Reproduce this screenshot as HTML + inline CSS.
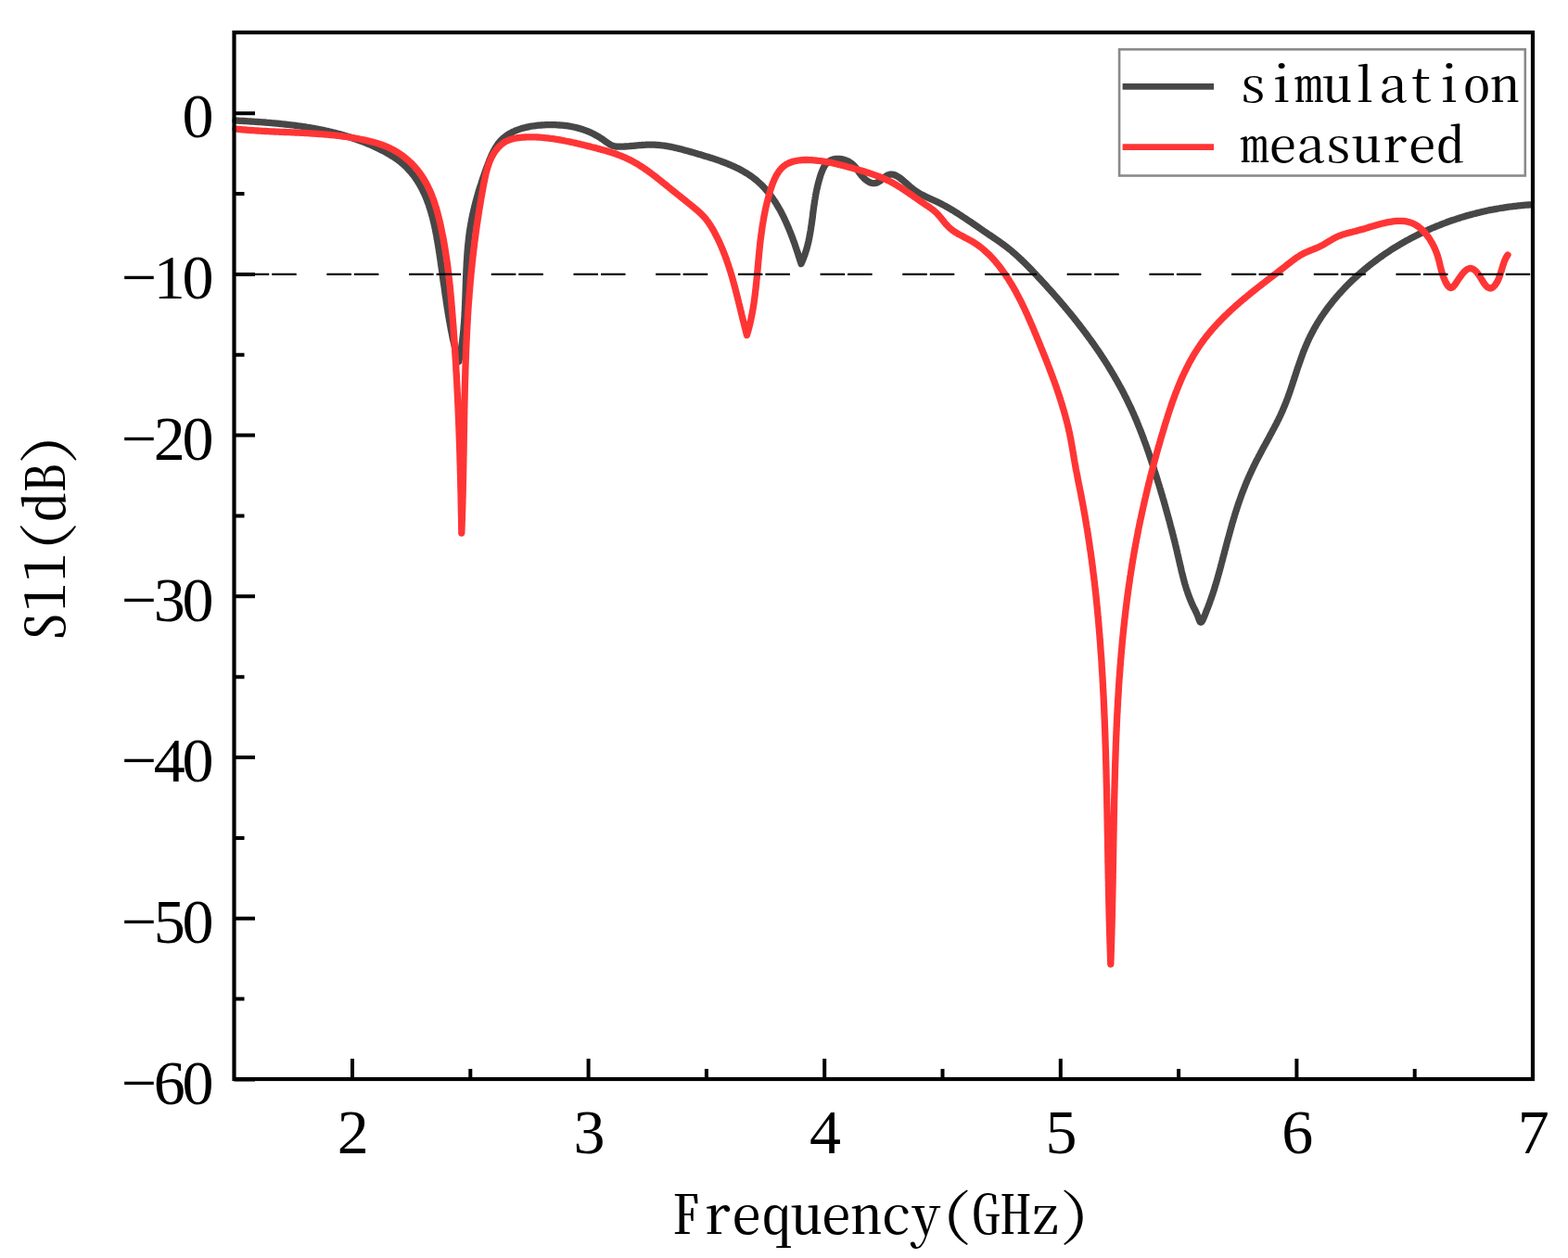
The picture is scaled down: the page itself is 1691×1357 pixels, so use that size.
<!DOCTYPE html>
<html><head><meta charset="utf-8"><style>
html,body{margin:0;padding:0;background:#fff;overflow:hidden;width:1691px;height:1357px;}
svg{display:block;}
.num{font-family:"Liberation Serif","Times New Roman",serif;font-size:68px;fill:#000;}
.mono{font-family:"Noto Serif CJK SC","Liberation Serif",serif;font-feature-settings:"hwid" 1;fill:#000;}
</style></head><body>
<svg width="1691" height="1357" viewBox="0 0 1691 1357">
<rect width="1691" height="1357" fill="#fff"/>
<g fill="none" stroke-linejoin="round" stroke-linecap="round" stroke-width="7.3">
<path d="M254.0,130.0 L255.5,130.1 257.0,130.2 258.5,130.3 260.0,130.3 261.5,130.4 263.0,130.5 264.5,130.6 266.0,130.7 267.5,130.8 269.0,130.9 270.5,131.0 272.0,131.1 273.5,131.2 275.0,131.3 276.5,131.4 278.0,131.5 279.5,131.6 281.0,131.7 282.5,131.8 284.0,131.9 285.5,132.0 287.0,132.1 288.5,132.3 290.0,132.4 291.5,132.5 293.0,132.7 294.5,132.8 296.0,132.9 297.5,133.1 299.1,133.2 300.6,133.4 302.1,133.5 303.6,133.7 305.1,133.8 306.6,134.0 308.1,134.1 309.6,134.3 311.1,134.5 312.6,134.7 314.1,134.8 315.6,135.0 317.1,135.2 318.6,135.4 320.1,135.6 321.6,135.8 323.1,136.0 324.6,136.2 326.1,136.5 327.6,136.7 329.1,136.9 330.6,137.2 332.1,137.4 333.6,137.6 335.1,137.9 336.5,138.2 338.0,138.4 339.5,138.7 341.0,139.0 342.5,139.2 344.0,139.5 345.5,139.8 346.9,140.1 348.4,140.4 349.9,140.7 351.4,141.1 352.8,141.4 354.3,141.7 355.8,142.1 357.2,142.4 358.7,142.8 360.2,143.1 361.6,143.5 363.1,143.9 364.5,144.2 366.0,144.6 367.4,145.0 368.9,145.4 370.3,145.9 371.8,146.3 373.2,146.7 374.7,147.1 376.1,147.6 377.5,148.0 379.0,148.5 380.4,149.0 381.8,149.5 383.2,150.0 384.6,150.4 386.1,151.0 387.5,151.5 388.9,152.0 390.3,152.5 391.7,153.1 393.1,153.6 394.5,154.2 395.9,154.8 397.3,155.3 398.7,155.9 400.1,156.5 401.4,157.1 402.8,157.7 404.2,158.4 405.6,159.0 406.9,159.7 408.3,160.3 409.7,161.0 411.0,161.7 412.4,162.4 413.7,163.1 415.1,163.8 416.4,164.5 417.7,165.3 419.0,166.0 420.4,166.8 421.7,167.6 422.9,168.4 424.2,169.2 425.5,170.0 426.7,170.9 428.0,171.7 429.2,172.6 430.4,173.5 431.6,174.4 432.7,175.4 433.9,176.4 435.0,177.3 436.1,178.3 437.2,179.4 438.3,180.4 439.3,181.5 440.3,182.6 441.3,183.7 442.3,184.8 443.3,185.9 444.2,187.1 445.2,188.2 446.1,189.4 447.0,190.6 447.8,191.8 448.7,193.0 449.5,194.2 450.3,195.5 451.1,196.7 451.9,198.0 452.6,199.3 453.3,200.6 454.1,201.9 454.8,203.2 455.4,204.5 456.1,205.8 456.7,207.2 457.4,208.5 458.0,209.9 458.6,211.2 459.2,212.6 459.7,214.0 460.3,215.4 460.8,216.8 461.3,218.2 461.9,219.6 462.4,221.0 462.8,222.5 463.3,223.9 463.8,225.4 464.2,226.8 464.7,228.3 465.1,229.7 465.5,231.2 465.9,232.7 466.3,234.1 466.7,235.6 467.0,237.1 467.4,238.6 467.8,240.1 468.1,241.6 468.4,243.1 468.8,244.6 469.1,246.1 469.4,247.6 469.7,249.1 470.0,250.6 470.3,252.1 470.6,253.6 470.9,255.1 471.1,256.7 471.4,258.2 471.7,259.7 471.9,261.2 472.2,262.7 472.4,264.2 472.7,265.8 472.9,267.3 473.2,268.8 473.4,270.3 473.6,271.8 473.9,273.3 474.1,274.8 474.3,276.3 474.5,277.8 474.8,279.3 475.0,280.8 475.2,282.3 475.4,283.8 475.6,285.3 475.8,286.8 476.1,288.3 476.3,289.8 476.5,291.3 476.7,292.8 476.9,294.3 477.1,295.8 477.3,297.2 477.5,298.7 477.7,300.2 477.9,301.7 478.1,303.2 478.3,304.6 478.5,306.1 478.8,307.6 479.0,309.1 479.2,310.6 479.4,312.0 479.6,313.5 479.8,315.0 480.0,316.5 480.2,317.9 480.4,319.4 480.7,320.9 480.9,322.3 481.1,323.8 481.3,325.3 481.5,326.8 481.8,328.2 482.0,329.7 482.2,331.2 482.4,332.6 482.7,334.1 482.9,335.6 483.1,337.0 483.4,338.5 483.6,340.0 483.9,341.5 484.1,342.9 484.4,344.4 484.6,345.9 484.9,347.3 485.2,348.8 485.4,350.3 485.7,351.7 486.0,353.2 486.2,354.7 486.5,356.2 486.8,357.6 487.1,359.1 487.4,360.6 487.7,362.0 488.0,363.5 488.3,365.0 488.6,366.5 489.0,367.9 489.3,369.4 489.6,370.9 490.0,372.4 490.3,373.9 490.7,375.3 491.0,376.8 491.4,378.3 491.8,379.8 492.2,381.2 492.6,382.7 493.0,384.2 493.4,385.6 493.9,387.1 494.3,388.5 494.8,390.0 495.1,388.5 495.4,387.1 495.7,385.6 496.0,384.2 496.3,382.7 496.5,381.3 496.8,379.8 497.1,378.3 497.3,376.9 497.5,375.4 497.8,373.9 498.0,372.4 498.2,371.0 498.4,369.5 498.6,368.0 498.8,366.5 498.9,365.0 499.1,363.5 499.3,362.1 499.4,360.6 499.6,359.1 499.7,357.6 499.9,356.1 500.0,354.6 500.1,353.1 500.2,351.6 500.4,350.1 500.5,348.6 500.6,347.1 500.7,345.6 500.8,344.1 500.9,342.6 501.0,341.1 501.1,339.6 501.1,338.1 501.2,336.6 501.3,335.1 501.4,333.6 501.4,332.0 501.5,330.5 501.6,329.0 501.6,327.5 501.7,326.0 501.7,324.5 501.8,323.0 501.9,321.5 501.9,320.0 502.0,318.4 502.0,316.9 502.1,315.4 502.1,313.9 502.2,312.4 502.2,310.9 502.3,309.4 502.3,307.8 502.4,306.3 502.4,304.8 502.5,303.3 502.5,301.8 502.6,300.3 502.6,298.8 502.7,297.2 502.8,295.7 502.8,294.2 502.9,292.7 502.9,291.2 503.0,289.7 503.1,288.2 503.2,286.7 503.2,285.2 503.3,283.6 503.4,282.1 503.5,280.6 503.6,279.1 503.7,277.6 503.8,276.1 503.9,274.6 504.0,273.1 504.1,271.6 504.2,270.1 504.4,268.6 504.5,267.1 504.6,265.6 504.8,264.1 504.9,262.6 505.1,261.2 505.2,259.7 505.4,258.2 505.6,256.7 505.7,255.2 505.9,253.7 506.1,252.2 506.3,250.8 506.5,249.3 506.8,247.8 507.0,246.3 507.2,244.9 507.5,243.4 507.7,241.9 508.0,240.5 508.3,239.0 508.5,237.5 508.8,236.1 509.1,234.6 509.4,233.1 509.7,231.7 510.0,230.2 510.4,228.8 510.7,227.3 511.0,225.9 511.4,224.4 511.7,223.0 512.1,221.5 512.5,220.1 512.8,218.6 513.2,217.2 513.6,215.7 514.0,214.3 514.4,212.8 514.8,211.4 515.2,209.9 515.6,208.5 516.1,207.0 516.5,205.6 516.9,204.2 517.4,202.7 517.8,201.3 518.3,199.8 518.8,198.4 519.2,196.9 519.7,195.5 520.2,194.0 520.7,192.6 521.2,191.1 521.7,189.7 522.2,188.2 522.7,186.8 523.2,185.3 523.7,183.9 524.2,182.4 524.8,180.9 525.3,179.5 525.9,178.0 526.4,176.6 527.0,175.1 527.5,173.7 528.1,172.2 528.7,170.8 529.3,169.4 529.9,168.0 530.5,166.6 531.2,165.2 531.9,163.8 532.6,162.5 533.3,161.2 534.0,159.9 534.8,158.6 535.6,157.4 536.4,156.2 537.3,155.0 538.2,153.8 539.1,152.7 540.0,151.7 541.0,150.6 542.1,149.7 543.1,148.7 544.2,147.8 545.4,146.9 546.5,146.1 547.7,145.3 548.9,144.5 550.2,143.8 551.5,143.1 552.7,142.4 554.1,141.8 555.4,141.2 556.8,140.6 558.2,140.1 559.6,139.6 561.0,139.1 562.5,138.6 563.9,138.2 565.4,137.8 566.9,137.5 568.4,137.1 569.9,136.8 571.4,136.5 572.9,136.2 574.5,136.0 576.0,135.8 577.6,135.6 579.1,135.4 580.7,135.2 582.3,135.1 583.8,135.0 585.4,134.9 586.9,134.8 588.5,134.7 590.1,134.7 591.6,134.7 593.1,134.6 594.7,134.6 596.2,134.6 597.7,134.7 599.3,134.7 600.8,134.8 602.3,134.9 603.8,135.0 605.3,135.1 606.8,135.2 608.3,135.4 609.7,135.5 611.2,135.7 612.7,135.9 614.1,136.2 615.6,136.4 617.0,136.7 618.5,137.0 619.9,137.3 621.3,137.6 622.7,138.0 624.2,138.4 625.6,138.8 627.0,139.2 628.4,139.6 629.7,140.1 631.1,140.6 632.5,141.1 633.9,141.7 635.2,142.2 636.6,142.8 637.9,143.4 639.2,144.1 640.6,144.8 641.9,145.5 643.2,146.2 644.5,146.9 645.8,147.7 647.1,148.5 648.4,149.4 649.7,150.2 651.0,151.1 652.2,152.0 653.5,152.9 654.8,153.8 656.0,154.7 657.3,155.5 658.6,156.2 659.9,156.8 661.2,157.3 662.6,157.7 663.9,158.0 665.3,158.1 666.7,158.2 668.2,158.2 669.6,158.2 671.1,158.1 672.5,158.1 674.0,158.0 675.5,157.9 677.0,157.8 678.5,157.7 680.1,157.5 681.6,157.4 683.1,157.3 684.7,157.1 686.2,157.0 687.8,156.8 689.3,156.7 690.9,156.6 692.4,156.5 694.0,156.4 695.5,156.3 697.1,156.2 698.6,156.1 700.1,156.1 701.6,156.1 703.1,156.1 704.7,156.2 706.1,156.2 707.6,156.3 709.1,156.4 710.6,156.5 712.1,156.7 713.5,156.8 715.0,157.0 716.5,157.2 717.9,157.4 719.4,157.7 720.8,157.9 722.2,158.2 723.7,158.4 725.1,158.7 726.6,159.0 728.0,159.4 729.4,159.7 730.8,160.0 732.3,160.4 733.7,160.7 735.1,161.1 736.6,161.5 738.0,161.9 739.4,162.3 740.9,162.7 742.3,163.1 743.7,163.5 745.2,163.9 746.6,164.3 748.1,164.7 749.5,165.1 751.0,165.6 752.5,166.0 753.9,166.4 755.4,166.8 756.9,167.3 758.3,167.7 759.8,168.2 761.3,168.6 762.8,169.1 764.2,169.5 765.7,170.0 767.2,170.4 768.6,170.9 770.1,171.4 771.6,171.9 773.0,172.4 774.5,172.9 776.0,173.4 777.4,173.9 778.9,174.5 780.3,175.0 781.7,175.5 783.2,176.1 784.6,176.7 786.0,177.3 787.4,177.8 788.8,178.4 790.2,179.1 791.6,179.7 793.0,180.3 794.4,181.0 795.7,181.6 797.1,182.3 798.4,183.0 799.7,183.7 801.0,184.5 802.4,185.2 803.6,186.0 804.9,186.7 806.2,187.5 807.4,188.3 808.7,189.1 809.9,190.0 811.1,190.8 812.3,191.7 813.4,192.6 814.6,193.5 815.7,194.4 816.8,195.4 817.9,196.4 819.0,197.4 820.1,198.4 821.2,199.4 822.2,200.4 823.2,201.5 824.2,202.6 825.2,203.6 826.2,204.8 827.1,205.9 828.1,207.0 829.0,208.2 829.9,209.3 830.8,210.5 831.7,211.7 832.6,212.9 833.5,214.1 834.3,215.4 835.1,216.6 836.0,217.9 836.8,219.1 837.6,220.4 838.3,221.7 839.1,223.0 839.9,224.3 840.6,225.6 841.4,226.9 842.1,228.3 842.8,229.6 843.5,231.0 844.2,232.3 844.9,233.7 845.5,235.1 846.2,236.4 846.8,237.8 847.5,239.2 848.1,240.6 848.7,242.0 849.3,243.4 849.9,244.8 850.5,246.2 851.1,247.7 851.7,249.1 852.3,250.5 852.8,251.9 853.4,253.3 853.9,254.8 854.5,256.2 855.0,257.6 855.5,259.1 856.0,260.5 856.6,261.9 857.1,263.4 857.6,264.8 858.0,266.2 858.5,267.6 859.0,269.1 859.5,270.5 860.0,271.9 860.4,273.3 860.9,274.7 861.3,276.2 861.8,277.6 862.2,279.0 862.7,280.4 863.1,281.7 863.6,283.1 864.0,284.5 864.6,283.1 865.2,281.7 865.8,280.3 866.4,278.9 866.9,277.5 867.5,276.0 868.0,274.6 868.4,273.2 868.9,271.8 869.3,270.4 869.8,268.9 870.2,267.5 870.6,266.1 870.9,264.6 871.3,263.2 871.6,261.7 872.0,260.3 872.3,258.8 872.6,257.4 872.9,255.9 873.1,254.5 873.4,253.0 873.7,251.6 873.9,250.1 874.2,248.6 874.4,247.2 874.6,245.7 874.8,244.2 875.1,242.8 875.3,241.3 875.5,239.8 875.7,238.3 875.9,236.9 876.1,235.4 876.3,233.9 876.5,232.4 876.6,231.0 876.8,229.5 877.0,228.0 877.2,226.5 877.4,225.0 877.6,223.5 877.8,222.0 878.1,220.6 878.3,219.1 878.5,217.6 878.7,216.1 879.0,214.6 879.2,213.1 879.5,211.6 879.7,210.1 880.0,208.6 880.3,207.1 880.6,205.6 880.9,204.1 881.3,202.7 881.6,201.2 881.9,199.7 882.3,198.2 882.7,196.7 883.1,195.2 883.5,193.7 884.0,192.2 884.4,190.7 884.9,189.2 885.4,187.7 885.9,186.3 886.5,184.8 887.1,183.4 887.7,182.0 888.4,180.6 889.1,179.3 889.9,178.1 890.7,177.0 891.7,175.9 892.6,175.0 893.7,174.1 894.9,173.4 896.1,172.8 897.4,172.2 898.8,171.9 900.2,171.6 901.7,171.4 903.1,171.3 904.7,171.4 906.2,171.5 907.7,171.7 909.2,172.0 910.7,172.5 912.2,173.0 913.7,173.6 915.1,174.2 916.4,175.0 917.7,175.8 918.9,176.8 920.1,177.8 921.1,178.8 922.1,179.9 923.1,181.1 924.0,182.3 924.9,183.5 925.7,184.8 926.6,186.0 927.5,187.3 928.5,188.5 929.4,189.7 930.5,190.9 931.6,192.1 932.7,193.2 934.0,194.2 935.3,195.2 936.7,196.0 938.1,196.7 939.5,197.2 940.9,197.6 942.3,197.7 943.7,197.6 945.1,197.2 946.5,196.7 947.8,195.9 949.1,195.1 950.3,194.1 951.6,193.1 952.8,192.1 954.1,191.1 955.3,190.2 956.5,189.4 957.7,188.8 959.0,188.3 960.2,188.1 961.5,188.1 962.8,188.2 964.0,188.5 965.3,189.0 966.6,189.5 967.9,190.3 969.2,191.1 970.5,192.0 971.8,193.0 973.1,194.0 974.4,195.1 975.7,196.3 977.0,197.4 978.4,198.6 979.7,199.8 981.0,201.0 982.4,202.1 983.7,203.2 985.0,204.2 986.4,205.2 987.7,206.1 989.1,207.0 990.4,207.9 991.7,208.7 993.1,209.4 994.4,210.1 995.8,210.8 997.1,211.5 998.4,212.2 999.8,212.8 1001.1,213.4 1002.4,214.0 1003.8,214.6 1005.1,215.2 1006.4,215.8 1007.7,216.4 1009.1,217.0 1010.4,217.6 1011.7,218.2 1013.0,218.9 1014.3,219.5 1015.6,220.2 1016.9,220.9 1018.2,221.6 1019.5,222.3 1020.8,223.0 1022.1,223.7 1023.4,224.5 1024.7,225.2 1025.9,226.0 1027.2,226.7 1028.5,227.5 1029.8,228.3 1031.0,229.1 1032.3,229.9 1033.6,230.7 1034.8,231.5 1036.1,232.3 1037.4,233.2 1038.6,234.0 1039.9,234.8 1041.1,235.7 1042.4,236.5 1043.7,237.4 1044.9,238.2 1046.2,239.1 1047.4,239.9 1048.7,240.8 1049.9,241.6 1051.2,242.5 1052.4,243.4 1053.7,244.2 1054.9,245.1 1056.2,245.9 1057.4,246.8 1058.7,247.7 1059.9,248.5 1061.2,249.4 1062.4,250.2 1063.6,251.1 1064.9,251.9 1066.1,252.8 1067.4,253.6 1068.6,254.4 1069.9,255.3 1071.1,256.1 1072.4,257.0 1073.6,257.8 1074.8,258.7 1076.1,259.5 1077.3,260.4 1078.5,261.2 1079.7,262.1 1080.9,263.0 1082.1,263.9 1083.3,264.7 1084.5,265.6 1085.7,266.5 1086.9,267.5 1088.0,268.4 1089.2,269.3 1090.4,270.3 1091.5,271.2 1092.6,272.2 1093.8,273.2 1094.9,274.1 1096.0,275.1 1097.1,276.1 1098.2,277.1 1099.3,278.2 1100.4,279.2 1101.5,280.2 1102.6,281.3 1103.6,282.3 1104.7,283.3 1105.8,284.4 1106.8,285.5 1107.9,286.5 1108.9,287.6 1110.0,288.7 1111.0,289.8 1112.1,290.8 1113.1,291.9 1114.2,293.0 1115.2,294.1 1116.2,295.2 1117.3,296.3 1118.3,297.4 1119.3,298.5 1120.3,299.6 1121.4,300.7 1122.4,301.8 1123.4,302.9 1124.4,304.0 1125.5,305.1 1126.5,306.2 1127.5,307.3 1128.5,308.4 1129.5,309.6 1130.5,310.7 1131.5,311.8 1132.5,312.9 1133.5,314.0 1134.6,315.2 1135.6,316.3 1136.5,317.4 1137.5,318.5 1138.5,319.7 1139.5,320.8 1140.5,321.9 1141.5,323.1 1142.5,324.2 1143.5,325.4 1144.4,326.5 1145.4,327.7 1146.4,328.8 1147.4,329.9 1148.3,331.1 1149.3,332.3 1150.3,333.4 1151.2,334.6 1152.2,335.7 1153.1,336.9 1154.1,338.0 1155.0,339.2 1156.0,340.4 1156.9,341.5 1157.9,342.7 1158.8,343.9 1159.8,345.1 1160.7,346.2 1161.6,347.4 1162.5,348.6 1163.5,349.8 1164.4,351.0 1165.3,352.2 1166.2,353.4 1167.1,354.5 1168.0,355.7 1168.9,356.9 1169.8,358.1 1170.7,359.3 1171.6,360.5 1172.5,361.7 1173.4,363.0 1174.3,364.2 1175.2,365.4 1176.1,366.6 1176.9,367.8 1177.8,369.0 1178.7,370.2 1179.6,371.5 1180.4,372.7 1181.3,373.9 1182.1,375.2 1183.0,376.4 1183.8,377.6 1184.7,378.9 1185.5,380.1 1186.3,381.3 1187.2,382.6 1188.0,383.8 1188.8,385.1 1189.6,386.3 1190.5,387.6 1191.3,388.8 1192.1,390.1 1192.9,391.4 1193.7,392.6 1194.5,393.9 1195.3,395.2 1196.1,396.4 1196.8,397.7 1197.6,399.0 1198.4,400.3 1199.2,401.6 1199.9,402.8 1200.7,404.1 1201.4,405.4 1202.2,406.7 1202.9,408.0 1203.7,409.3 1204.4,410.6 1205.2,411.9 1205.9,413.2 1206.6,414.5 1207.3,415.8 1208.1,417.1 1208.8,418.5 1209.5,419.8 1210.2,421.1 1210.9,422.4 1211.6,423.7 1212.3,425.1 1212.9,426.4 1213.6,427.7 1214.3,429.1 1215.0,430.4 1215.6,431.8 1216.3,433.1 1216.9,434.5 1217.6,435.8 1218.2,437.2 1218.9,438.5 1219.5,439.9 1220.1,441.2 1220.8,442.6 1221.4,444.0 1222.0,445.3 1222.6,446.7 1223.2,448.1 1223.8,449.5 1224.4,450.9 1225.0,452.2 1225.6,453.6 1226.1,455.0 1226.7,456.4 1227.3,457.8 1227.8,459.2 1228.4,460.6 1229.0,462.0 1229.5,463.4 1230.1,464.8 1230.6,466.2 1231.2,467.6 1231.7,469.0 1232.2,470.4 1232.8,471.8 1233.3,473.2 1233.8,474.7 1234.3,476.1 1234.9,477.5 1235.4,478.9 1235.9,480.3 1236.4,481.7 1236.9,483.2 1237.4,484.6 1237.9,486.0 1238.4,487.4 1238.9,488.9 1239.4,490.3 1239.8,491.7 1240.3,493.2 1240.8,494.6 1241.3,496.0 1241.8,497.4 1242.2,498.9 1242.7,500.3 1243.2,501.7 1243.6,503.2 1244.1,504.6 1244.6,506.0 1245.0,507.5 1245.5,508.9 1245.9,510.4 1246.4,511.8 1246.8,513.2 1247.3,514.7 1247.7,516.1 1248.2,517.5 1248.6,519.0 1249.1,520.4 1249.5,521.8 1250.0,523.3 1250.4,524.7 1250.8,526.1 1251.3,527.6 1251.7,529.0 1252.1,530.5 1252.5,531.9 1253.0,533.3 1253.4,534.8 1253.8,536.2 1254.2,537.6 1254.7,539.1 1255.1,540.5 1255.5,542.0 1255.9,543.4 1256.3,544.8 1256.7,546.3 1257.1,547.7 1257.5,549.2 1257.9,550.6 1258.3,552.0 1258.7,553.5 1259.1,554.9 1259.5,556.4 1259.9,557.8 1260.3,559.3 1260.7,560.7 1261.1,562.1 1261.5,563.6 1261.9,565.0 1262.2,566.5 1262.6,567.9 1263.0,569.4 1263.4,570.8 1263.8,572.3 1264.1,573.7 1264.5,575.2 1264.9,576.6 1265.2,578.1 1265.6,579.5 1266.0,581.0 1266.3,582.4 1266.7,583.9 1267.1,585.3 1267.4,586.8 1267.8,588.2 1268.1,589.7 1268.5,591.1 1268.8,592.6 1269.2,594.1 1269.5,595.5 1269.8,597.0 1270.2,598.4 1270.5,599.9 1270.9,601.4 1271.2,602.8 1271.5,604.3 1271.9,605.7 1272.2,607.2 1272.5,608.7 1272.9,610.1 1273.2,611.6 1273.6,613.0 1273.9,614.5 1274.2,616.0 1274.6,617.4 1275.0,618.9 1275.3,620.3 1275.7,621.8 1276.1,623.2 1276.4,624.7 1276.8,626.1 1277.2,627.6 1277.6,629.0 1278.0,630.5 1278.5,631.9 1278.9,633.3 1279.3,634.8 1279.8,636.2 1280.3,637.6 1280.8,639.1 1281.2,640.5 1281.8,641.9 1282.3,643.3 1282.8,644.7 1283.4,646.1 1283.9,647.5 1284.5,648.9 1285.1,650.3 1285.7,651.7 1286.4,653.1 1287.0,654.5 1287.7,655.8 1288.4,657.2 1289.1,658.6 1289.8,660.0 1290.4,661.5 1291.1,663.0 1291.7,664.5 1292.3,666.1 1292.8,667.6 1293.4,669.0 1293.9,670.2 1294.4,671.0 1295.0,671.3 1295.6,671.0 1296.2,670.3 1296.9,669.2 1297.5,667.9 1298.2,666.3 1298.8,664.8 1299.5,663.2 1300.1,661.7 1300.7,660.2 1301.2,658.7 1301.8,657.3 1302.4,655.9 1302.9,654.4 1303.5,653.0 1304.0,651.6 1304.5,650.2 1305.0,648.7 1305.5,647.3 1306.0,645.9 1306.5,644.5 1307.0,643.0 1307.5,641.6 1308.0,640.2 1308.4,638.8 1308.9,637.3 1309.4,635.9 1309.8,634.5 1310.2,633.0 1310.7,631.6 1311.1,630.2 1311.5,628.7 1312.0,627.3 1312.4,625.9 1312.8,624.4 1313.2,623.0 1313.6,621.6 1314.0,620.1 1314.4,618.7 1314.8,617.2 1315.2,615.8 1315.6,614.4 1316.0,612.9 1316.4,611.5 1316.8,610.0 1317.1,608.6 1317.5,607.1 1317.9,605.7 1318.3,604.3 1318.7,602.8 1319.0,601.4 1319.4,599.9 1319.8,598.5 1320.2,597.0 1320.6,595.6 1320.9,594.1 1321.3,592.7 1321.7,591.2 1322.1,589.8 1322.5,588.3 1322.8,586.9 1323.2,585.4 1323.6,584.0 1324.0,582.5 1324.4,581.1 1324.8,579.6 1325.2,578.1 1325.6,576.7 1326.0,575.2 1326.4,573.8 1326.8,572.3 1327.2,570.9 1327.6,569.4 1328.0,568.0 1328.4,566.5 1328.8,565.1 1329.2,563.6 1329.7,562.2 1330.1,560.8 1330.5,559.3 1331.0,557.9 1331.4,556.4 1331.8,555.0 1332.3,553.6 1332.7,552.1 1333.2,550.7 1333.6,549.2 1334.1,547.8 1334.6,546.4 1335.0,545.0 1335.5,543.5 1336.0,542.1 1336.5,540.7 1337.0,539.3 1337.5,537.8 1338.0,536.4 1338.5,535.0 1339.0,533.6 1339.5,532.2 1340.1,530.8 1340.6,529.4 1341.2,528.0 1341.7,526.6 1342.3,525.2 1342.8,523.8 1343.4,522.4 1344.0,521.0 1344.5,519.6 1345.1,518.3 1345.7,516.9 1346.3,515.5 1346.9,514.1 1347.5,512.8 1348.2,511.4 1348.8,510.0 1349.4,508.7 1350.0,507.3 1350.7,506.0 1351.3,504.6 1352.0,503.2 1352.6,501.9 1353.3,500.6 1354.0,499.2 1354.6,497.9 1355.3,496.5 1356.0,495.2 1356.7,493.9 1357.4,492.5 1358.1,491.2 1358.8,489.9 1359.5,488.5 1360.2,487.2 1360.9,485.9 1361.6,484.6 1362.3,483.3 1363.0,482.0 1363.7,480.6 1364.5,479.3 1365.2,478.0 1365.9,476.7 1366.6,475.4 1367.3,474.1 1368.1,472.7 1368.8,471.4 1369.5,470.1 1370.2,468.8 1370.9,467.5 1371.6,466.2 1372.3,464.8 1373.0,463.5 1373.7,462.2 1374.4,460.9 1375.1,459.5 1375.8,458.2 1376.5,456.9 1377.2,455.5 1377.8,454.2 1378.5,452.9 1379.2,451.5 1379.8,450.2 1380.5,448.8 1381.1,447.5 1381.7,446.1 1382.3,444.7 1383.0,443.4 1383.6,442.0 1384.1,440.6 1384.7,439.2 1385.3,437.9 1385.9,436.5 1386.4,435.1 1387.0,433.7 1387.5,432.3 1388.0,430.9 1388.6,429.5 1389.1,428.0 1389.6,426.6 1390.1,425.2 1390.6,423.8 1391.1,422.4 1391.6,420.9 1392.1,419.5 1392.5,418.1 1393.0,416.6 1393.5,415.2 1394.0,413.8 1394.4,412.3 1394.9,410.9 1395.4,409.5 1395.9,408.0 1396.3,406.6 1396.8,405.2 1397.3,403.7 1397.7,402.3 1398.2,400.9 1398.7,399.4 1399.1,398.0 1399.6,396.6 1400.1,395.1 1400.6,393.7 1401.1,392.3 1401.6,390.8 1402.1,389.4 1402.6,388.0 1403.1,386.6 1403.6,385.2 1404.1,383.8 1404.6,382.3 1405.1,380.9 1405.7,379.5 1406.2,378.1 1406.8,376.8 1407.3,375.4 1407.9,374.0 1408.5,372.6 1409.1,371.2 1409.7,369.8 1410.3,368.5 1410.9,367.1 1411.5,365.8 1412.2,364.4 1412.8,363.1 1413.5,361.7 1414.2,360.4 1414.9,359.1 1415.6,357.8 1416.3,356.4 1417.0,355.1 1417.7,353.8 1418.5,352.5 1419.2,351.2 1420.0,349.9 1420.7,348.7 1421.5,347.4 1422.3,346.1 1423.1,344.9 1423.9,343.6 1424.7,342.3 1425.5,341.1 1426.4,339.9 1427.2,338.6 1428.1,337.4 1428.9,336.2 1429.8,335.0 1430.7,333.7 1431.6,332.5 1432.5,331.3 1433.4,330.1 1434.3,329.0 1435.2,327.8 1436.2,326.6 1437.1,325.4 1438.0,324.3 1439.0,323.1 1440.0,322.0 1440.9,320.8 1441.9,319.7 1442.9,318.5 1443.9,317.4 1444.9,316.3 1445.9,315.2 1446.9,314.1 1447.9,313.0 1449.0,311.9 1450.0,310.8 1451.0,309.7 1452.1,308.6 1453.1,307.5 1454.2,306.5 1455.3,305.4 1456.3,304.4 1457.4,303.3 1458.5,302.3 1459.6,301.2 1460.7,300.2 1461.8,299.2 1462.9,298.2 1464.0,297.2 1465.1,296.2 1466.3,295.2 1467.4,294.2 1468.5,293.2 1469.7,292.2 1470.8,291.2 1472.0,290.3 1473.1,289.3 1474.3,288.4 1475.5,287.4 1476.6,286.5 1477.8,285.5 1479.0,284.6 1480.2,283.7 1481.4,282.8 1482.6,281.9 1483.8,281.0 1485.0,280.1 1486.2,279.2 1487.4,278.3 1488.6,277.4 1489.8,276.6 1491.1,275.7 1492.3,274.8 1493.5,274.0 1494.8,273.2 1496.0,272.3 1497.3,271.5 1498.5,270.7 1499.8,269.8 1501.0,269.0 1502.3,268.2 1503.6,267.4 1504.9,266.6 1506.1,265.9 1507.4,265.1 1508.7,264.3 1510.0,263.5 1511.3,262.8 1512.6,262.0 1513.9,261.3 1515.2,260.5 1516.5,259.8 1517.8,259.1 1519.1,258.4 1520.5,257.7 1521.8,256.9 1523.1,256.2 1524.4,255.6 1525.8,254.9 1527.1,254.2 1528.5,253.5 1529.8,252.8 1531.2,252.2 1532.5,251.5 1533.9,250.9 1535.2,250.2 1536.6,249.6 1537.9,249.0 1539.3,248.4 1540.7,247.7 1542.1,247.1 1543.4,246.5 1544.8,245.9 1546.2,245.4 1547.6,244.8 1549.0,244.2 1550.4,243.6 1551.8,243.1 1553.2,242.5 1554.6,242.0 1556.0,241.4 1557.4,240.9 1558.8,240.4 1560.2,239.8 1561.6,239.3 1563.0,238.8 1564.4,238.3 1565.8,237.8 1567.3,237.3 1568.7,236.9 1570.1,236.4 1571.5,235.9 1573.0,235.5 1574.4,235.0 1575.8,234.6 1577.3,234.1 1578.7,233.7 1580.2,233.3 1581.6,232.8 1583.1,232.4 1584.5,232.0 1586.0,231.6 1587.4,231.2 1588.9,230.8 1590.3,230.5 1591.8,230.1 1593.2,229.7 1594.7,229.4 1596.1,229.0 1597.6,228.7 1599.1,228.3 1600.5,228.0 1602.0,227.7 1603.5,227.3 1604.9,227.0 1606.4,226.7 1607.9,226.4 1609.4,226.1 1610.8,225.9 1612.3,225.6 1613.8,225.3 1615.3,225.0 1616.8,224.8 1618.2,224.5 1619.7,224.3 1621.2,224.1 1622.7,223.8 1624.2,223.6 1625.7,223.4 1627.1,223.2 1628.6,223.0 1630.1,222.8 1631.6,222.6 1633.1,222.4 1634.6,222.3 1636.1,222.1 1637.6,221.9 1639.1,221.8 1640.5,221.6 1642.0,221.5 1643.5,221.4 1645.0,221.2 1646.5,221.1 1648.0,221.0 1649.5,220.9 1651.0,220.8" stroke="#474747"/>
<path d="M254.0,139.0 L255.5,139.2 257.0,139.3 258.4,139.5 259.9,139.6 261.4,139.8 262.9,139.9 264.4,140.0 265.9,140.1 267.4,140.3 268.9,140.4 270.3,140.5 271.8,140.6 273.3,140.7 274.8,140.8 276.3,140.9 277.8,141.0 279.3,141.1 280.8,141.2 282.3,141.3 283.8,141.4 285.3,141.5 286.8,141.5 288.3,141.6 289.8,141.7 291.3,141.8 292.8,141.8 294.4,141.9 295.9,142.0 297.4,142.1 298.9,142.1 300.4,142.2 301.9,142.3 303.4,142.3 304.9,142.4 306.4,142.5 307.9,142.5 309.4,142.6 310.9,142.7 312.5,142.7 314.0,142.8 315.5,142.9 317.0,142.9 318.5,143.0 320.0,143.1 321.5,143.1 323.0,143.2 324.5,143.3 326.1,143.4 327.6,143.4 329.1,143.5 330.6,143.6 332.1,143.7 333.6,143.8 335.1,143.9 336.6,144.0 338.1,144.1 339.7,144.2 341.2,144.3 342.7,144.4 344.2,144.5 345.7,144.6 347.2,144.7 348.7,144.8 350.2,145.0 351.7,145.1 353.2,145.2 354.7,145.4 356.2,145.5 357.7,145.7 359.3,145.8 360.8,146.0 362.3,146.2 363.8,146.3 365.3,146.5 366.8,146.7 368.3,146.9 369.8,147.1 371.3,147.3 372.8,147.5 374.2,147.7 375.7,147.9 377.2,148.2 378.7,148.4 380.2,148.6 381.7,148.9 383.2,149.2 384.7,149.4 386.2,149.7 387.7,150.0 389.1,150.3 390.6,150.6 392.1,150.9 393.6,151.2 395.1,151.5 396.5,151.9 398.0,152.2 399.5,152.6 401.0,152.9 402.4,153.3 403.9,153.7 405.3,154.1 406.8,154.6 408.2,155.0 409.6,155.5 411.1,156.0 412.5,156.5 413.9,157.0 415.3,157.5 416.7,158.1 418.0,158.7 419.4,159.3 420.8,159.9 422.1,160.6 423.4,161.3 424.7,162.0 426.0,162.7 427.3,163.5 428.6,164.2 429.8,165.0 431.1,165.8 432.3,166.7 433.5,167.5 434.7,168.4 435.9,169.3 437.0,170.2 438.2,171.2 439.3,172.2 440.4,173.1 441.5,174.1 442.6,175.1 443.7,176.2 444.7,177.2 445.7,178.3 446.8,179.4 447.7,180.5 448.7,181.6 449.7,182.8 450.6,183.9 451.5,185.1 452.4,186.3 453.3,187.5 454.1,188.7 455.0,189.9 455.8,191.2 456.6,192.4 457.4,193.7 458.1,195.0 458.9,196.3 459.6,197.6 460.3,198.9 461.0,200.2 461.6,201.6 462.3,202.9 462.9,204.3 463.6,205.6 464.2,207.0 464.8,208.4 465.3,209.8 465.9,211.2 466.4,212.6 467.0,214.1 467.5,215.5 468.0,216.9 468.5,218.4 469.0,219.8 469.4,221.3 469.9,222.7 470.3,224.2 470.8,225.7 471.2,227.2 471.6,228.6 472.0,230.1 472.4,231.6 472.8,233.1 473.2,234.6 473.5,236.1 473.9,237.6 474.3,239.1 474.6,240.6 474.9,242.1 475.3,243.6 475.6,245.1 475.9,246.6 476.2,248.1 476.5,249.6 476.8,251.1 477.1,252.5 477.4,254.0 477.7,255.5 478.0,257.0 478.3,258.5 478.5,260.0 478.8,261.5 479.1,263.0 479.3,264.5 479.6,266.0 479.8,267.5 480.1,269.0 480.3,270.4 480.5,271.9 480.8,273.4 481.0,274.9 481.2,276.4 481.4,277.9 481.7,279.4 481.9,280.9 482.1,282.4 482.3,283.8 482.5,285.3 482.7,286.8 482.9,288.3 483.0,289.8 483.2,291.3 483.4,292.8 483.6,294.2 483.8,295.7 483.9,297.2 484.1,298.7 484.3,300.2 484.4,301.7 484.6,303.1 484.7,304.6 484.9,306.1 485.1,307.6 485.2,309.1 485.4,310.6 485.5,312.1 485.6,313.5 485.8,315.0 485.9,316.5 486.1,318.0 486.2,319.5 486.3,321.0 486.5,322.5 486.6,323.9 486.7,325.4 486.9,326.9 487.0,328.4 487.1,329.9 487.2,331.4 487.4,332.9 487.5,334.4 487.6,335.9 487.7,337.3 487.8,338.8 488.0,340.3 488.1,341.8 488.2,343.3 488.3,344.8 488.4,346.3 488.5,347.8 488.7,349.3 488.8,350.8 488.9,352.3 489.0,353.8 489.1,355.3 489.2,356.8 489.3,358.3 489.4,359.8 489.5,361.3 489.6,362.8 489.7,364.3 489.9,365.8 490.0,367.3 490.1,368.7 490.2,370.2 490.3,371.7 490.4,373.2 490.5,374.7 490.6,376.2 490.7,377.8 490.7,379.3 490.8,380.8 490.9,382.3 491.0,383.8 491.1,385.3 491.2,386.8 491.3,388.3 491.4,389.8 491.5,391.3 491.6,392.8 491.7,394.3 491.8,395.8 491.8,397.3 491.9,398.8 492.0,400.3 492.1,401.8 492.2,403.3 492.3,404.8 492.4,406.3 492.4,407.8 492.5,409.3 492.6,410.8 492.7,412.3 492.8,413.9 492.8,415.4 492.9,416.9 493.0,418.4 493.1,419.9 493.1,421.4 493.2,422.9 493.3,424.4 493.4,425.9 493.4,427.4 493.5,428.9 493.6,430.4 493.6,431.9 493.7,433.5 493.8,435.0 493.9,436.5 493.9,438.0 494.0,439.5 494.1,441.0 494.1,442.5 494.2,444.0 494.3,445.5 494.3,447.0 494.4,448.5 494.4,450.1 494.5,451.6 494.6,453.1 494.6,454.6 494.7,456.1 494.7,457.6 494.8,459.1 494.9,460.6 494.9,462.1 495.0,463.6 495.0,465.1 495.1,466.7 495.1,468.2 495.2,469.7 495.3,471.2 495.3,472.7 495.4,474.2 495.4,475.7 495.5,477.2 495.5,478.7 495.6,480.2 495.6,481.8 495.7,483.3 495.7,484.8 495.8,486.3 495.8,487.8 495.9,489.3 495.9,490.8 496.0,492.3 496.0,493.8 496.0,495.3 496.1,496.8 496.1,498.3 496.2,499.9 496.2,501.4 496.3,502.9 496.3,504.4 496.3,505.9 496.4,507.4 496.4,508.9 496.5,510.4 496.5,511.9 496.6,513.4 496.6,514.9 496.6,516.4 496.7,517.9 496.7,519.5 496.7,521.0 496.8,522.5 496.8,524.0 496.8,525.5 496.9,527.0 496.9,528.5 497.0,530.0 497.0,531.5 497.0,533.0 497.1,534.5 497.1,536.0 497.1,537.5 497.2,539.0 497.2,540.5 497.2,542.0 497.2,543.5 497.3,545.0 497.3,546.5 497.3,548.0 497.4,549.5 497.4,551.0 497.4,552.5 497.4,554.0 497.5,555.5 497.5,557.0 497.5,558.5 497.6,560.0 497.6,561.5 497.6,563.0 497.6,564.5 497.7,566.0 497.7,567.5 497.7,569.0 497.7,570.5 497.8,572.0 497.8,573.5 497.8,575.0 497.9,573.5 497.9,572.0 498.0,570.5 498.0,569.0 498.1,567.5 498.1,566.0 498.2,564.5 498.2,563.0 498.3,561.5 498.4,560.0 498.4,558.5 498.5,557.0 498.5,555.5 498.5,554.0 498.6,552.6 498.6,551.1 498.7,549.6 498.7,548.1 498.8,546.6 498.8,545.1 498.9,543.6 498.9,542.1 498.9,540.6 499.0,539.1 499.0,537.5 499.1,536.0 499.1,534.5 499.1,533.0 499.2,531.5 499.2,530.0 499.2,528.5 499.3,527.0 499.3,525.5 499.3,524.0 499.4,522.5 499.4,521.0 499.4,519.5 499.5,518.0 499.5,516.5 499.5,515.0 499.6,513.5 499.6,512.0 499.6,510.5 499.6,509.0 499.7,507.5 499.7,506.0 499.7,504.5 499.8,503.0 499.8,501.5 499.8,499.9 499.8,498.4 499.9,496.9 499.9,495.4 499.9,493.9 499.9,492.4 500.0,490.9 500.0,489.4 500.0,487.9 500.1,486.4 500.1,484.9 500.1,483.4 500.1,481.9 500.2,480.4 500.2,478.8 500.2,477.3 500.2,475.8 500.3,474.3 500.3,472.8 500.3,471.3 500.3,469.8 500.4,468.3 500.4,466.8 500.4,465.3 500.4,463.8 500.5,462.3 500.5,460.8 500.5,459.2 500.5,457.7 500.6,456.2 500.6,454.7 500.6,453.2 500.6,451.7 500.7,450.2 500.7,448.7 500.7,447.2 500.8,445.7 500.8,444.2 500.8,442.7 500.8,441.1 500.9,439.6 500.9,438.1 500.9,436.6 501.0,435.1 501.0,433.6 501.0,432.1 501.1,430.6 501.1,429.1 501.1,427.6 501.2,426.1 501.2,424.6 501.2,423.1 501.3,421.5 501.3,420.0 501.3,418.5 501.4,417.0 501.4,415.5 501.5,414.0 501.5,412.5 501.5,411.0 501.6,409.5 501.6,408.0 501.7,406.5 501.7,405.0 501.8,403.5 501.8,402.0 501.8,400.5 501.9,398.9 501.9,397.4 502.0,395.9 502.0,394.4 502.1,392.9 502.1,391.4 502.2,389.9 502.2,388.4 502.3,386.9 502.4,385.4 502.4,383.9 502.5,382.4 502.5,380.9 502.6,379.4 502.6,377.9 502.7,376.4 502.8,374.9 502.8,373.4 502.9,371.9 503.0,370.4 503.0,368.9 503.1,367.4 503.2,365.9 503.2,364.4 503.3,362.9 503.4,361.4 503.5,359.9 503.5,358.4 503.6,356.9 503.7,355.4 503.8,353.9 503.8,352.4 503.9,350.9 504.0,349.4 504.1,347.9 504.2,346.4 504.3,344.9 504.4,343.4 504.4,341.9 504.5,340.4 504.6,338.9 504.7,337.4 504.8,335.9 504.9,334.4 505.0,332.9 505.1,331.4 505.2,329.9 505.3,328.4 505.4,326.9 505.5,325.5 505.6,324.0 505.8,322.5 505.9,321.0 506.0,319.5 506.1,318.0 506.2,316.5 506.3,315.0 506.5,313.5 506.6,312.0 506.7,310.5 506.8,309.0 507.0,307.6 507.1,306.1 507.2,304.6 507.3,303.1 507.5,301.6 507.6,300.1 507.8,298.6 507.9,297.1 508.0,295.6 508.2,294.1 508.3,292.7 508.5,291.2 508.6,289.7 508.8,288.2 508.9,286.7 509.1,285.2 509.2,283.7 509.4,282.2 509.6,280.7 509.7,279.3 509.9,277.8 510.0,276.3 510.2,274.8 510.4,273.3 510.6,271.8 510.7,270.3 510.9,268.8 511.1,267.3 511.3,265.9 511.5,264.4 511.6,262.9 511.8,261.4 512.0,259.9 512.2,258.4 512.4,256.9 512.6,255.4 512.8,253.9 513.0,252.4 513.2,250.9 513.4,249.5 513.6,248.0 513.8,246.5 514.0,245.0 514.2,243.5 514.4,242.0 514.7,240.5 514.9,239.0 515.1,237.5 515.3,236.0 515.6,234.5 515.8,233.0 516.0,231.5 516.3,230.0 516.5,228.5 516.7,227.0 517.0,225.5 517.2,224.1 517.5,222.6 517.7,221.1 518.0,219.6 518.2,218.1 518.5,216.6 518.7,215.1 519.0,213.6 519.2,212.1 519.5,210.6 519.8,209.1 520.0,207.6 520.3,206.1 520.6,204.5 520.9,203.0 521.1,201.5 521.4,200.0 521.7,198.5 522.0,197.0 522.3,195.5 522.6,194.0 522.9,192.5 523.2,191.0 523.6,189.5 523.9,188.1 524.2,186.6 524.6,185.1 525.0,183.7 525.4,182.2 525.8,180.8 526.3,179.3 526.8,177.9 527.2,176.5 527.8,175.1 528.3,173.8 528.9,172.4 529.5,171.1 530.1,169.8 530.8,168.5 531.5,167.2 532.2,165.9 533.0,164.7 533.8,163.5 534.7,162.3 535.6,161.2 536.5,160.0 537.5,158.9 538.5,157.9 539.6,156.9 540.7,155.9 541.8,155.0 543.0,154.1 544.2,153.3 545.5,152.6 546.8,151.9 548.2,151.3 549.5,150.8 551.0,150.3 552.4,149.9 553.9,149.5 555.4,149.2 556.9,149.0 558.4,148.7 559.9,148.5 561.4,148.4 562.9,148.2 564.4,148.1 566.0,148.0 567.5,147.9 569.0,147.9 570.5,147.8 572.1,147.8 573.6,147.8 575.1,147.8 576.6,147.9 578.2,147.9 579.7,148.0 581.2,148.1 582.7,148.2 584.3,148.3 585.8,148.5 587.3,148.6 588.8,148.8 590.3,148.9 591.8,149.1 593.3,149.3 594.8,149.5 596.3,149.7 597.7,149.9 599.2,150.2 600.7,150.4 602.2,150.6 603.6,150.9 605.1,151.2 606.6,151.4 608.0,151.7 609.5,152.0 610.9,152.3 612.4,152.5 613.9,152.8 615.3,153.1 616.8,153.5 618.2,153.8 619.7,154.1 621.1,154.4 622.6,154.8 624.0,155.1 625.5,155.4 626.9,155.8 628.4,156.1 629.8,156.5 631.3,156.8 632.7,157.2 634.2,157.6 635.6,157.9 637.1,158.3 638.6,158.7 640.0,159.0 641.5,159.4 643.0,159.8 644.4,160.2 645.9,160.6 647.4,161.0 648.8,161.4 650.3,161.8 651.8,162.2 653.2,162.6 654.7,163.0 656.1,163.5 657.6,163.9 659.0,164.4 660.5,164.9 661.9,165.3 663.4,165.8 664.8,166.3 666.2,166.8 667.6,167.4 669.0,167.9 670.4,168.5 671.8,169.0 673.2,169.6 674.6,170.2 675.9,170.9 677.3,171.5 678.6,172.2 680.0,172.8 681.3,173.5 682.6,174.2 683.9,175.0 685.2,175.7 686.5,176.4 687.8,177.2 689.1,178.0 690.3,178.8 691.6,179.6 692.8,180.4 694.1,181.2 695.3,182.1 696.5,182.9 697.8,183.8 699.0,184.6 700.2,185.5 701.4,186.4 702.6,187.3 703.8,188.2 705.0,189.1 706.2,190.0 707.4,190.9 708.6,191.9 709.8,192.8 710.9,193.7 712.1,194.7 713.3,195.6 714.5,196.6 715.6,197.5 716.8,198.5 718.0,199.4 719.2,200.4 720.3,201.3 721.5,202.3 722.7,203.2 723.9,204.2 725.0,205.1 726.2,206.1 727.4,207.0 728.6,208.0 729.7,208.9 730.9,209.8 732.1,210.8 733.3,211.7 734.4,212.7 735.6,213.6 736.8,214.5 738.0,215.5 739.1,216.4 740.3,217.4 741.5,218.3 742.6,219.2 743.8,220.2 745.0,221.1 746.1,222.1 747.3,223.0 748.4,224.0 749.5,224.9 750.7,225.9 751.8,226.8 752.9,227.8 754.0,228.8 755.1,229.8 756.2,230.8 757.2,231.8 758.2,232.8 759.2,233.9 760.2,235.0 761.2,236.2 762.1,237.4 763.0,238.6 763.9,239.8 764.7,241.0 765.6,242.3 766.4,243.5 767.2,244.8 768.0,246.1 768.7,247.4 769.5,248.8 770.2,250.1 770.9,251.4 771.6,252.8 772.3,254.1 773.0,255.5 773.7,256.8 774.4,258.2 775.0,259.5 775.7,260.9 776.3,262.3 776.9,263.6 777.5,265.0 778.1,266.4 778.7,267.8 779.3,269.2 779.8,270.5 780.4,271.9 780.9,273.3 781.5,274.7 782.0,276.1 782.5,277.5 783.0,278.9 783.6,280.3 784.0,281.8 784.5,283.2 785.0,284.6 785.5,286.0 786.0,287.4 786.4,288.8 786.9,290.3 787.3,291.7 787.8,293.1 788.2,294.6 788.6,296.0 789.1,297.4 789.5,298.9 789.9,300.3 790.3,301.8 790.7,303.2 791.1,304.7 791.5,306.1 791.9,307.5 792.3,309.0 792.7,310.4 793.1,311.9 793.4,313.4 793.8,314.8 794.2,316.3 794.5,317.7 794.9,319.2 795.3,320.6 795.6,322.1 796.0,323.6 796.4,325.0 796.7,326.5 797.1,327.9 797.4,329.4 797.8,330.9 798.2,332.3 798.5,333.8 798.9,335.2 799.2,336.7 799.6,338.2 799.9,339.6 800.3,341.1 800.6,342.6 801.0,344.0 801.4,345.5 801.7,346.9 802.1,348.4 802.5,349.9 802.8,351.3 803.2,352.8 803.6,354.2 804.0,355.7 804.3,357.1 804.7,358.6 805.1,360.0 805.5,361.5 805.9,360.1 806.3,358.7 806.8,357.2 807.1,355.8 807.5,354.4 807.9,352.9 808.3,351.5 808.6,350.1 809.0,348.6 809.3,347.2 809.6,345.7 809.9,344.2 810.2,342.8 810.5,341.3 810.8,339.8 811.1,338.4 811.4,336.9 811.6,335.4 811.9,333.9 812.2,332.5 812.4,331.0 812.6,329.5 812.9,328.0 813.1,326.5 813.3,325.0 813.5,323.5 813.7,322.0 813.9,320.5 814.1,319.0 814.3,317.5 814.5,316.0 814.6,314.5 814.8,313.0 815.0,311.5 815.2,310.0 815.3,308.5 815.5,307.0 815.6,305.5 815.8,303.9 815.9,302.4 816.1,300.9 816.2,299.4 816.4,297.9 816.5,296.4 816.7,294.9 816.8,293.4 816.9,291.9 817.1,290.4 817.2,288.9 817.3,287.4 817.5,285.9 817.6,284.4 817.7,282.9 817.9,281.4 818.0,279.9 818.2,278.4 818.3,276.9 818.4,275.4 818.6,273.9 818.7,272.5 818.9,271.0 819.0,269.5 819.2,268.0 819.3,266.5 819.5,265.1 819.6,263.6 819.8,262.1 820.0,260.6 820.1,259.2 820.3,257.7 820.5,256.2 820.7,254.8 820.9,253.3 821.1,251.8 821.3,250.4 821.5,248.9 821.7,247.4 821.9,246.0 822.1,244.5 822.3,243.0 822.6,241.6 822.8,240.1 823.1,238.6 823.3,237.1 823.6,235.7 823.8,234.2 824.1,232.7 824.4,231.2 824.7,229.8 825.0,228.3 825.3,226.8 825.6,225.3 825.9,223.9 826.3,222.4 826.6,220.9 827.0,219.4 827.3,217.9 827.7,216.4 828.1,214.9 828.5,213.4 828.9,211.9 829.3,210.4 829.7,208.9 830.2,207.4 830.6,205.9 831.1,204.4 831.6,202.9 832.1,201.4 832.6,199.9 833.1,198.4 833.7,197.0 834.3,195.5 834.9,194.1 835.5,192.7 836.2,191.3 836.8,190.0 837.6,188.7 838.3,187.4 839.1,186.2 839.9,185.0 840.8,183.9 841.7,182.8 842.6,181.7 843.6,180.7 844.6,179.8 845.7,178.9 846.8,178.1 848.0,177.3 849.2,176.7 850.5,176.0 851.8,175.5 853.1,175.0 854.5,174.5 855.9,174.1 857.3,173.8 858.8,173.5 860.2,173.2 861.7,173.0 863.3,172.8 864.8,172.7 866.4,172.6 867.9,172.5 869.5,172.5 871.1,172.5 872.7,172.6 874.3,172.6 875.8,172.7 877.4,172.8 879.0,173.0 880.5,173.1 882.1,173.3 883.6,173.5 885.1,173.7 886.7,173.9 888.2,174.1 889.6,174.3 891.1,174.6 892.6,174.9 894.1,175.1 895.5,175.4 897.0,175.7 898.4,176.0 899.9,176.3 901.3,176.7 902.7,177.0 904.2,177.4 905.6,177.7 907.0,178.1 908.4,178.4 909.9,178.8 911.3,179.2 912.7,179.6 914.1,180.0 915.6,180.3 917.0,180.7 918.4,181.1 919.9,181.5 921.3,181.9 922.7,182.3 924.2,182.7 925.6,183.1 927.1,183.6 928.5,184.0 930.0,184.4 931.4,184.8 932.8,185.3 934.3,185.7 935.7,186.2 937.2,186.6 938.6,187.1 940.0,187.6 941.5,188.1 942.9,188.6 944.3,189.1 945.7,189.6 947.2,190.1 948.6,190.7 950.0,191.2 951.4,191.8 952.7,192.4 954.1,193.0 955.5,193.6 956.8,194.3 958.2,194.9 959.5,195.6 960.9,196.3 962.2,197.0 963.5,197.7 964.8,198.5 966.1,199.2 967.4,200.0 968.7,200.8 969.9,201.6 971.2,202.3 972.5,203.2 973.7,204.0 975.0,204.8 976.2,205.6 977.5,206.5 978.7,207.3 980.0,208.2 981.2,209.0 982.4,209.9 983.7,210.7 984.9,211.6 986.1,212.5 987.4,213.3 988.6,214.2 989.8,215.0 991.1,215.9 992.3,216.8 993.6,217.6 994.8,218.5 996.0,219.3 997.3,220.2 998.5,221.0 999.8,221.8 1001.0,222.7 1002.3,223.5 1003.5,224.4 1004.7,225.3 1005.9,226.2 1007.1,227.1 1008.2,228.1 1009.3,229.1 1010.4,230.1 1011.4,231.2 1012.4,232.3 1013.4,233.5 1014.4,234.6 1015.3,235.8 1016.3,237.0 1017.2,238.2 1018.2,239.4 1019.1,240.6 1020.1,241.7 1021.1,242.8 1022.1,243.9 1023.2,245.0 1024.2,246.0 1025.4,246.9 1026.5,247.9 1027.7,248.7 1028.9,249.6 1030.2,250.4 1031.4,251.2 1032.7,252.0 1034.0,252.7 1035.3,253.4 1036.6,254.1 1038.0,254.8 1039.3,255.5 1040.6,256.2 1042.0,256.9 1043.3,257.6 1044.6,258.3 1046.0,259.1 1047.3,259.8 1048.6,260.5 1049.9,261.3 1051.1,262.1 1052.4,262.9 1053.6,263.8 1054.8,264.6 1056.0,265.5 1057.2,266.4 1058.4,267.3 1059.6,268.3 1060.7,269.2 1061.8,270.2 1062.9,271.2 1064.0,272.2 1065.1,273.3 1066.2,274.3 1067.3,275.3 1068.3,276.4 1069.4,277.5 1070.4,278.6 1071.4,279.7 1072.4,280.8 1073.4,282.0 1074.3,283.1 1075.3,284.3 1076.3,285.5 1077.2,286.6 1078.1,287.8 1079.0,289.0 1079.9,290.2 1080.8,291.5 1081.7,292.7 1082.6,293.9 1083.5,295.1 1084.3,296.4 1085.1,297.6 1086.0,298.9 1086.8,300.1 1087.6,301.4 1088.4,302.7 1089.2,304.0 1090.0,305.2 1090.8,306.5 1091.6,307.8 1092.3,309.1 1093.1,310.4 1093.8,311.7 1094.6,313.0 1095.3,314.3 1096.0,315.6 1096.7,317.0 1097.4,318.3 1098.1,319.6 1098.8,320.9 1099.5,322.3 1100.2,323.6 1100.9,324.9 1101.6,326.3 1102.2,327.6 1102.9,329.0 1103.5,330.3 1104.2,331.7 1104.8,333.1 1105.5,334.4 1106.1,335.8 1106.7,337.2 1107.4,338.5 1108.0,339.9 1108.6,341.3 1109.2,342.6 1109.8,344.0 1110.4,345.4 1111.0,346.8 1111.6,348.2 1112.2,349.5 1112.8,350.9 1113.4,352.3 1114.0,353.7 1114.6,355.1 1115.2,356.5 1115.7,357.9 1116.3,359.3 1116.9,360.6 1117.5,362.0 1118.0,363.4 1118.6,364.8 1119.2,366.2 1119.8,367.6 1120.3,369.0 1120.9,370.4 1121.5,371.8 1122.1,373.2 1122.6,374.6 1123.2,376.0 1123.8,377.4 1124.3,378.7 1124.9,380.1 1125.4,381.5 1126.0,382.9 1126.6,384.3 1127.1,385.7 1127.7,387.1 1128.2,388.5 1128.8,389.9 1129.3,391.3 1129.9,392.7 1130.4,394.1 1131.0,395.5 1131.5,396.9 1132.0,398.3 1132.6,399.7 1133.1,401.1 1133.6,402.5 1134.2,403.9 1134.7,405.3 1135.2,406.7 1135.7,408.1 1136.2,409.5 1136.8,411.0 1137.3,412.4 1137.8,413.8 1138.3,415.2 1138.8,416.6 1139.3,418.0 1139.8,419.4 1140.2,420.9 1140.7,422.3 1141.2,423.7 1141.7,425.1 1142.2,426.6 1142.6,428.0 1143.1,429.4 1143.6,430.8 1144.0,432.3 1144.5,433.7 1144.9,435.1 1145.3,436.6 1145.8,438.0 1146.2,439.5 1146.6,440.9 1147.1,442.4 1147.5,443.8 1147.9,445.2 1148.3,446.7 1148.7,448.1 1149.1,449.6 1149.5,451.1 1149.9,452.5 1150.3,454.0 1150.6,455.4 1151.0,456.9 1151.4,458.3 1151.7,459.8 1152.1,461.3 1152.4,462.7 1152.7,464.2 1153.1,465.7 1153.4,467.1 1153.7,468.6 1154.0,470.1 1154.3,471.5 1154.6,473.0 1154.9,474.5 1155.1,476.0 1155.4,477.4 1155.7,478.9 1155.9,480.4 1156.2,481.8 1156.4,483.3 1156.7,484.8 1156.9,486.3 1157.2,487.7 1157.4,489.2 1157.7,490.7 1157.9,492.2 1158.2,493.7 1158.4,495.1 1158.7,496.6 1158.9,498.1 1159.2,499.6 1159.4,501.0 1159.7,502.5 1160.0,504.0 1160.2,505.5 1160.5,506.9 1160.8,508.4 1161.1,509.9 1161.4,511.4 1161.7,512.8 1161.9,514.3 1162.2,515.8 1162.5,517.3 1162.8,518.8 1163.1,520.2 1163.4,521.7 1163.7,523.2 1164.0,524.7 1164.3,526.1 1164.6,527.6 1164.9,529.1 1165.2,530.6 1165.5,532.1 1165.8,533.5 1166.0,535.0 1166.3,536.5 1166.6,538.0 1166.9,539.5 1167.2,540.9 1167.5,542.4 1167.7,543.9 1168.0,545.4 1168.3,546.9 1168.5,548.3 1168.8,549.8 1169.1,551.3 1169.3,552.8 1169.6,554.3 1169.9,555.7 1170.1,557.2 1170.4,558.7 1170.6,560.2 1170.9,561.7 1171.1,563.2 1171.4,564.6 1171.6,566.1 1171.9,567.6 1172.1,569.1 1172.4,570.6 1172.6,572.1 1172.8,573.5 1173.1,575.0 1173.3,576.5 1173.5,578.0 1173.8,579.5 1174.0,581.0 1174.2,582.5 1174.4,583.9 1174.7,585.4 1174.9,586.9 1175.1,588.4 1175.3,589.9 1175.5,591.4 1175.7,592.9 1176.0,594.3 1176.2,595.8 1176.4,597.3 1176.6,598.8 1176.8,600.3 1177.0,601.8 1177.2,603.3 1177.4,604.8 1177.6,606.3 1177.8,607.7 1178.0,609.2 1178.2,610.7 1178.4,612.2 1178.6,613.7 1178.7,615.2 1178.9,616.7 1179.1,618.2 1179.3,619.7 1179.5,621.1 1179.7,622.6 1179.8,624.1 1180.0,625.6 1180.2,627.1 1180.4,628.6 1180.5,630.1 1180.7,631.6 1180.9,633.1 1181.0,634.6 1181.2,636.1 1181.4,637.6 1181.5,639.0 1181.7,640.5 1181.9,642.0 1182.0,643.5 1182.2,645.0 1182.3,646.5 1182.5,648.0 1182.6,649.5 1182.8,651.0 1182.9,652.5 1183.1,654.0 1183.2,655.5 1183.4,657.0 1183.5,658.5 1183.7,660.0 1183.8,661.5 1183.9,662.9 1184.1,664.4 1184.2,665.9 1184.4,667.4 1184.5,668.9 1184.6,670.4 1184.8,671.9 1184.9,673.4 1185.0,674.9 1185.1,676.4 1185.3,677.9 1185.4,679.4 1185.5,680.9 1185.6,682.4 1185.8,683.9 1185.9,685.4 1186.0,686.9 1186.1,688.4 1186.2,689.9 1186.4,691.4 1186.5,692.9 1186.6,694.4 1186.7,695.9 1186.8,697.4 1186.9,698.9 1187.0,700.4 1187.1,701.9 1187.2,703.4 1187.3,704.9 1187.5,706.4 1187.6,707.9 1187.7,709.4 1187.8,710.9 1187.9,712.4 1188.0,713.9 1188.1,715.4 1188.1,716.9 1188.2,718.4 1188.3,719.9 1188.4,721.4 1188.5,722.9 1188.6,724.4 1188.7,725.9 1188.8,727.4 1188.9,728.9 1189.0,730.4 1189.1,731.9 1189.1,733.4 1189.2,734.9 1189.3,736.4 1189.4,737.9 1189.5,739.4 1189.5,740.9 1189.6,742.4 1189.7,743.9 1189.8,745.4 1189.9,746.9 1189.9,748.4 1190.0,749.9 1190.1,751.4 1190.2,752.9 1190.2,754.4 1190.3,755.9 1190.4,757.4 1190.4,758.9 1190.5,760.4 1190.6,761.9 1190.6,763.4 1190.7,764.9 1190.8,766.4 1190.8,767.9 1190.9,769.4 1191.0,770.9 1191.0,772.4 1191.1,773.9 1191.2,775.4 1191.2,776.9 1191.3,778.4 1191.3,779.9 1191.4,781.4 1191.4,782.9 1191.5,784.4 1191.6,785.9 1191.6,787.4 1191.7,788.9 1191.7,790.4 1191.8,791.9 1191.8,793.4 1191.9,794.9 1191.9,796.5 1192.0,798.0 1192.0,799.5 1192.1,801.0 1192.1,802.5 1192.2,804.0 1192.2,805.5 1192.3,807.0 1192.3,808.5 1192.4,810.0 1192.4,811.5 1192.5,813.0 1192.5,814.5 1192.5,816.0 1192.6,817.5 1192.6,819.0 1192.7,820.5 1192.7,822.0 1192.8,823.5 1192.8,825.0 1192.8,826.5 1192.9,828.0 1192.9,829.5 1193.0,831.0 1193.0,832.6 1193.0,834.1 1193.1,835.6 1193.1,837.1 1193.1,838.6 1193.2,840.1 1193.2,841.6 1193.2,843.1 1193.3,844.6 1193.3,846.1 1193.4,847.6 1193.4,849.1 1193.4,850.6 1193.5,852.1 1193.5,853.6 1193.5,855.1 1193.6,856.6 1193.6,858.1 1193.6,859.6 1193.7,861.1 1193.7,862.6 1193.7,864.2 1193.7,865.7 1193.8,867.2 1193.8,868.7 1193.8,870.2 1193.9,871.7 1193.9,873.2 1193.9,874.7 1194.0,876.2 1194.0,877.7 1194.0,879.2 1194.0,880.7 1194.1,882.2 1194.1,883.7 1194.1,885.2 1194.2,886.7 1194.2,888.2 1194.2,889.7 1194.2,891.2 1194.3,892.7 1194.3,894.3 1194.3,895.8 1194.3,897.3 1194.4,898.8 1194.4,900.3 1194.4,901.8 1194.5,903.3 1194.5,904.8 1194.5,906.3 1194.5,907.8 1194.6,909.3 1194.6,910.8 1194.6,912.3 1194.6,913.8 1194.7,915.3 1194.7,916.8 1194.7,918.3 1194.8,919.8 1194.8,921.3 1194.8,922.8 1194.8,924.3 1194.9,925.8 1194.9,927.4 1194.9,928.9 1194.9,930.4 1195.0,931.9 1195.0,933.4 1195.0,934.9 1195.1,936.4 1195.1,937.9 1195.1,939.4 1195.1,940.9 1195.2,942.4 1195.2,943.9 1195.2,945.4 1195.3,946.9 1195.3,948.4 1195.3,949.9 1195.4,951.4 1195.4,952.9 1195.4,954.4 1195.4,955.9 1195.5,957.4 1195.5,958.9 1195.5,960.4 1195.6,961.9 1195.6,963.4 1195.6,964.9 1195.7,966.5 1195.7,968.0 1195.7,969.5 1195.8,971.0 1195.8,972.5 1195.8,974.0 1195.9,975.5 1195.9,977.0 1195.9,978.5 1196.0,980.0 1196.0,981.5 1196.0,983.0 1196.1,984.5 1196.1,986.0 1196.2,987.5 1196.2,989.0 1196.2,990.5 1196.3,992.0 1196.3,993.5 1196.4,995.0 1196.4,996.5 1196.4,998.0 1196.5,999.5 1196.5,1001.0 1196.6,1002.5 1196.6,1004.0 1196.6,1005.5 1196.7,1007.0 1196.7,1008.5 1196.8,1010.0 1196.8,1011.5 1196.9,1013.0 1196.9,1014.5 1197.0,1016.0 1197.0,1017.5 1197.1,1019.0 1197.1,1020.5 1197.2,1022.0 1197.2,1023.5 1197.3,1025.0 1197.3,1026.5 1197.4,1028.0 1197.4,1029.5 1197.5,1031.0 1197.5,1032.5 1197.6,1034.0 1197.6,1035.5 1197.7,1037.0 1197.7,1038.5 1197.8,1040.0 1197.9,1038.5 1197.9,1037.0 1198.0,1035.5 1198.0,1034.0 1198.1,1032.5 1198.1,1031.0 1198.2,1029.5 1198.2,1028.0 1198.3,1026.5 1198.3,1025.0 1198.4,1023.5 1198.4,1022.0 1198.5,1020.5 1198.5,1019.0 1198.6,1017.6 1198.6,1016.1 1198.6,1014.6 1198.7,1013.1 1198.7,1011.6 1198.8,1010.1 1198.8,1008.6 1198.9,1007.1 1198.9,1005.6 1198.9,1004.1 1199.0,1002.6 1199.0,1001.1 1199.1,999.6 1199.1,998.1 1199.1,996.6 1199.2,995.1 1199.2,993.6 1199.2,992.1 1199.3,990.6 1199.3,989.1 1199.4,987.6 1199.4,986.1 1199.4,984.6 1199.5,983.1 1199.5,981.6 1199.5,980.1 1199.6,978.6 1199.6,977.1 1199.6,975.6 1199.6,974.1 1199.7,972.6 1199.7,971.1 1199.7,969.6 1199.8,968.0 1199.8,966.5 1199.8,965.0 1199.9,963.5 1199.9,962.0 1199.9,960.5 1199.9,959.0 1200.0,957.5 1200.0,956.0 1200.0,954.5 1200.1,953.0 1200.1,951.5 1200.1,950.0 1200.1,948.5 1200.2,947.0 1200.2,945.5 1200.2,944.0 1200.2,942.5 1200.3,941.0 1200.3,939.5 1200.3,938.0 1200.4,936.5 1200.4,935.0 1200.4,933.5 1200.4,932.0 1200.5,930.5 1200.5,929.0 1200.5,927.5 1200.5,926.0 1200.6,924.4 1200.6,922.9 1200.6,921.4 1200.6,919.9 1200.7,918.4 1200.7,916.9 1200.7,915.4 1200.7,913.9 1200.8,912.4 1200.8,910.9 1200.8,909.4 1200.8,907.9 1200.9,906.4 1200.9,904.9 1200.9,903.4 1200.9,901.9 1201.0,900.4 1201.0,898.9 1201.0,897.4 1201.1,895.9 1201.1,894.4 1201.1,892.8 1201.1,891.3 1201.2,889.8 1201.2,888.3 1201.2,886.8 1201.2,885.3 1201.3,883.8 1201.3,882.3 1201.3,880.8 1201.4,879.3 1201.4,877.8 1201.4,876.3 1201.5,874.8 1201.5,873.3 1201.5,871.8 1201.5,870.3 1201.6,868.8 1201.6,867.3 1201.6,865.7 1201.7,864.2 1201.7,862.7 1201.7,861.2 1201.8,859.7 1201.8,858.2 1201.8,856.7 1201.9,855.2 1201.9,853.7 1201.9,852.2 1202.0,850.7 1202.0,849.2 1202.1,847.7 1202.1,846.2 1202.1,844.7 1202.2,843.2 1202.2,841.7 1202.3,840.2 1202.3,838.7 1202.3,837.1 1202.4,835.6 1202.4,834.1 1202.5,832.6 1202.5,831.1 1202.5,829.6 1202.6,828.1 1202.6,826.6 1202.7,825.1 1202.7,823.6 1202.8,822.1 1202.8,820.6 1202.9,819.1 1202.9,817.6 1203.0,816.1 1203.0,814.6 1203.1,813.1 1203.1,811.6 1203.2,810.1 1203.2,808.6 1203.3,807.1 1203.3,805.6 1203.4,804.0 1203.4,802.5 1203.5,801.0 1203.6,799.5 1203.6,798.0 1203.7,796.5 1203.7,795.0 1203.8,793.5 1203.9,792.0 1203.9,790.5 1204.0,789.0 1204.1,787.5 1204.1,786.0 1204.2,784.5 1204.3,783.0 1204.3,781.5 1204.4,780.0 1204.5,778.5 1204.5,777.0 1204.6,775.5 1204.7,774.0 1204.7,772.5 1204.8,771.0 1204.9,769.5 1205.0,768.0 1205.1,766.5 1205.1,765.0 1205.2,763.5 1205.3,762.0 1205.4,760.5 1205.5,759.0 1205.5,757.5 1205.6,756.0 1205.7,754.5 1205.8,753.0 1205.9,751.5 1206.0,750.0 1206.1,748.5 1206.2,747.0 1206.3,745.5 1206.3,744.0 1206.4,742.5 1206.5,741.0 1206.6,739.5 1206.7,738.0 1206.8,736.5 1206.9,735.0 1207.0,733.5 1207.1,732.0 1207.2,730.5 1207.4,729.0 1207.5,727.5 1207.6,726.0 1207.7,724.5 1207.8,723.0 1207.9,721.5 1208.0,720.0 1208.1,718.5 1208.3,717.0 1208.4,715.5 1208.5,714.0 1208.6,712.5 1208.7,711.0 1208.9,709.5 1209.0,708.0 1209.1,706.5 1209.2,705.0 1209.4,703.5 1209.5,702.0 1209.6,700.5 1209.8,699.1 1209.9,697.6 1210.0,696.1 1210.2,694.6 1210.3,693.1 1210.4,691.6 1210.6,690.1 1210.7,688.6 1210.9,687.1 1211.0,685.6 1211.2,684.1 1211.3,682.6 1211.5,681.1 1211.6,679.6 1211.8,678.1 1211.9,676.7 1212.1,675.2 1212.3,673.7 1212.4,672.2 1212.6,670.7 1212.7,669.2 1212.9,667.7 1213.1,666.2 1213.3,664.7 1213.4,663.2 1213.6,661.7 1213.8,660.3 1213.9,658.8 1214.1,657.3 1214.3,655.8 1214.5,654.3 1214.7,652.8 1214.9,651.3 1215.0,649.8 1215.2,648.4 1215.4,646.9 1215.6,645.4 1215.8,643.9 1216.0,642.4 1216.2,640.9 1216.4,639.4 1216.6,637.9 1216.8,636.5 1217.0,635.0 1217.2,633.5 1217.4,632.0 1217.6,630.5 1217.9,629.0 1218.1,627.6 1218.3,626.1 1218.5,624.6 1218.7,623.1 1218.9,621.6 1219.2,620.1 1219.4,618.7 1219.6,617.2 1219.9,615.7 1220.1,614.2 1220.3,612.7 1220.6,611.2 1220.8,609.8 1221.0,608.3 1221.3,606.8 1221.5,605.3 1221.8,603.8 1222.0,602.4 1222.3,600.9 1222.5,599.4 1222.8,597.9 1223.0,596.5 1223.3,595.0 1223.6,593.5 1223.8,592.0 1224.1,590.5 1224.4,589.1 1224.6,587.6 1224.9,586.1 1225.2,584.6 1225.5,583.2 1225.7,581.7 1226.0,580.2 1226.3,578.7 1226.6,577.3 1226.9,575.8 1227.2,574.3 1227.4,572.8 1227.7,571.4 1228.0,569.9 1228.3,568.4 1228.6,567.0 1228.9,565.5 1229.2,564.0 1229.5,562.5 1229.8,561.1 1230.2,559.6 1230.5,558.1 1230.8,556.7 1231.1,555.2 1231.4,553.7 1231.7,552.3 1232.1,550.8 1232.4,549.3 1232.7,547.9 1233.0,546.4 1233.4,544.9 1233.7,543.5 1234.0,542.0 1234.4,540.5 1234.7,539.1 1235.0,537.6 1235.4,536.1 1235.7,534.7 1236.1,533.2 1236.4,531.7 1236.8,530.3 1237.1,528.8 1237.5,527.3 1237.8,525.9 1238.2,524.4 1238.5,523.0 1238.9,521.5 1239.3,520.0 1239.6,518.6 1240.0,517.1 1240.3,515.7 1240.7,514.2 1241.1,512.7 1241.5,511.3 1241.8,509.8 1242.2,508.4 1242.6,506.9 1243.0,505.4 1243.4,504.0 1243.7,502.5 1244.1,501.1 1244.5,499.6 1244.9,498.2 1245.3,496.7 1245.7,495.3 1246.1,493.8 1246.5,492.4 1246.9,490.9 1247.3,489.4 1247.7,488.0 1248.1,486.5 1248.5,485.1 1248.9,483.6 1249.3,482.2 1249.7,480.7 1250.2,479.3 1250.6,477.8 1251.0,476.4 1251.4,474.9 1251.8,473.5 1252.2,472.0 1252.7,470.6 1253.1,469.1 1253.5,467.7 1254.0,466.3 1254.4,464.8 1254.8,463.4 1255.3,461.9 1255.7,460.5 1256.1,459.0 1256.6,457.6 1257.0,456.1 1257.5,454.7 1257.9,453.3 1258.4,451.8 1258.8,450.4 1259.3,448.9 1259.7,447.5 1260.2,446.1 1260.7,444.6 1261.1,443.2 1261.6,441.8 1262.1,440.3 1262.6,438.9 1263.1,437.5 1263.6,436.1 1264.0,434.6 1264.5,433.2 1265.0,431.8 1265.6,430.4 1266.1,429.0 1266.6,427.6 1267.1,426.2 1267.6,424.8 1268.2,423.4 1268.7,422.0 1269.3,420.6 1269.8,419.2 1270.4,417.8 1270.9,416.4 1271.5,415.0 1272.1,413.6 1272.7,412.2 1273.2,410.9 1273.8,409.5 1274.4,408.1 1275.0,406.8 1275.7,405.4 1276.3,404.0 1276.9,402.7 1277.6,401.3 1278.2,400.0 1278.9,398.7 1279.5,397.3 1280.2,396.0 1280.9,394.7 1281.6,393.3 1282.2,392.0 1282.9,390.7 1283.7,389.4 1284.4,388.1 1285.1,386.8 1285.9,385.5 1286.6,384.2 1287.4,382.9 1288.1,381.7 1288.9,380.4 1289.7,379.1 1290.5,377.9 1291.3,376.6 1292.1,375.4 1292.9,374.1 1293.8,372.9 1294.6,371.6 1295.5,370.4 1296.3,369.2 1297.2,368.0 1298.1,366.8 1299.0,365.6 1299.9,364.4 1300.9,363.2 1301.8,362.0 1302.7,360.8 1303.7,359.6 1304.7,358.5 1305.6,357.3 1306.6,356.2 1307.6,355.0 1308.6,353.9 1309.6,352.8 1310.6,351.6 1311.7,350.5 1312.7,349.4 1313.7,348.3 1314.8,347.2 1315.8,346.1 1316.9,345.0 1317.9,343.9 1319.0,342.8 1320.1,341.8 1321.2,340.7 1322.3,339.6 1323.4,338.6 1324.5,337.5 1325.6,336.5 1326.7,335.4 1327.8,334.4 1328.9,333.4 1330.0,332.4 1331.1,331.4 1332.3,330.3 1333.4,329.3 1334.5,328.3 1335.7,327.4 1336.8,326.4 1337.9,325.4 1339.1,324.4 1340.2,323.4 1341.4,322.5 1342.5,321.5 1343.7,320.6 1344.8,319.6 1346.0,318.7 1347.1,317.7 1348.3,316.8 1349.4,315.8 1350.6,314.9 1351.8,314.0 1352.9,313.0 1354.1,312.1 1355.3,311.2 1356.4,310.3 1357.6,309.3 1358.8,308.4 1360.0,307.5 1361.1,306.6 1362.3,305.7 1363.5,304.8 1364.7,303.8 1365.9,302.9 1367.1,302.0 1368.2,301.1 1369.4,300.2 1370.6,299.3 1371.8,298.4 1373.0,297.4 1374.2,296.5 1375.4,295.6 1376.5,294.7 1377.7,293.8 1378.9,292.9 1380.1,291.9 1381.3,291.0 1382.5,290.1 1383.7,289.2 1384.9,288.2 1386.1,287.3 1387.2,286.4 1388.4,285.4 1389.6,284.5 1390.8,283.6 1392.0,282.6 1393.2,281.7 1394.4,280.8 1395.6,279.9 1396.8,279.0 1398.1,278.1 1399.3,277.3 1400.6,276.5 1401.8,275.7 1403.1,274.9 1404.4,274.2 1405.7,273.5 1407.0,272.8 1408.4,272.2 1409.7,271.6 1411.1,271.0 1412.5,270.5 1413.8,269.9 1415.2,269.4 1416.6,268.8 1418.0,268.3 1419.4,267.7 1420.8,267.1 1422.2,266.5 1423.6,265.8 1424.9,265.1 1426.3,264.4 1427.7,263.6 1429.0,262.8 1430.3,262.0 1431.7,261.2 1433.0,260.4 1434.3,259.6 1435.7,258.8 1437.0,258.0 1438.3,257.3 1439.6,256.6 1441.0,255.9 1442.3,255.3 1443.6,254.7 1444.9,254.2 1446.3,253.7 1447.6,253.2 1449.0,252.8 1450.3,252.3 1451.7,252.0 1453.0,251.6 1454.4,251.2 1455.8,250.9 1457.1,250.5 1458.5,250.2 1459.9,249.8 1461.3,249.5 1462.8,249.1 1464.2,248.7 1465.6,248.3 1467.1,247.9 1468.6,247.5 1470.1,247.1 1471.5,246.7 1473.0,246.2 1474.6,245.8 1476.1,245.3 1477.6,244.8 1479.1,244.4 1480.6,243.9 1482.2,243.5 1483.7,243.0 1485.3,242.6 1486.8,242.1 1488.3,241.7 1489.9,241.3 1491.4,240.9 1493.0,240.6 1494.5,240.2 1496.0,239.9 1497.6,239.6 1499.1,239.3 1500.6,239.1 1502.1,238.9 1503.6,238.7 1505.1,238.5 1506.6,238.4 1508.1,238.4 1509.5,238.3 1511.0,238.4 1512.4,238.4 1513.8,238.5 1515.2,238.7 1516.6,238.9 1518.0,239.2 1519.3,239.5 1520.7,239.9 1522.0,240.4 1523.3,240.9 1524.6,241.5 1525.8,242.1 1527.1,242.8 1528.3,243.6 1529.5,244.4 1530.6,245.3 1531.8,246.2 1532.9,247.2 1534.0,248.2 1535.0,249.3 1536.1,250.4 1537.1,251.6 1538.1,252.8 1539.0,254.0 1540.0,255.3 1540.9,256.5 1541.8,257.9 1542.6,259.2 1543.4,260.6 1544.2,261.9 1545.0,263.3 1545.7,264.7 1546.4,266.1 1547.1,267.5 1547.7,269.0 1548.3,270.4 1548.9,271.8 1549.4,273.2 1549.9,274.6 1550.4,276.0 1550.8,277.4 1551.2,278.8 1551.6,280.2 1552.0,281.5 1552.3,282.9 1552.6,284.2 1552.9,285.6 1553.2,286.9 1553.6,288.3 1553.9,289.7 1554.3,291.1 1554.7,292.6 1555.1,294.1 1555.6,295.7 1556.1,297.2 1556.7,298.9 1557.4,300.6 1558.1,302.3 1558.9,304.0 1559.7,305.5 1560.6,307.0 1561.4,308.3 1562.3,309.3 1563.3,310.0 1564.2,310.4 1565.1,310.5 1566.0,310.1 1566.9,309.5 1567.8,308.5 1568.8,307.4 1569.7,306.1 1570.7,304.7 1571.6,303.2 1572.6,301.7 1573.7,300.2 1574.7,298.7 1575.8,297.3 1576.8,295.8 1577.9,294.5 1579.0,293.3 1580.1,292.2 1581.2,291.3 1582.4,290.5 1583.5,289.9 1584.6,289.6 1585.8,289.4 1586.9,289.6 1588.0,290.0 1589.2,290.6 1590.3,291.4 1591.4,292.4 1592.5,293.5 1593.5,294.8 1594.5,296.2 1595.5,297.6 1596.5,299.1 1597.4,300.6 1598.3,302.1 1599.2,303.6 1600.0,305.0 1601.0,306.3 1601.9,307.5 1602.9,308.7 1604.0,309.6 1605.1,310.3 1606.2,310.8 1607.3,311.0 1608.4,310.8 1609.5,310.3 1610.5,309.5 1611.5,308.5 1612.5,307.3 1613.3,306.1 1614.1,304.8 1614.9,303.5 1615.6,302.1 1616.2,300.7 1616.8,299.2 1617.3,297.7 1617.9,296.2 1618.4,294.7 1618.8,293.2 1619.3,291.7 1619.7,290.1 1620.2,288.6 1620.6,287.1 1621.1,285.6 1621.6,284.2 1622.1,282.7 1622.6,281.3 1623.2,280.0 1623.8,278.6 1624.5,277.4 1625.2,276.2 1626.0,275.0" stroke="#ff3535"/>
</g>
<path d="M252.5,295.8H1651" stroke="#000" stroke-width="2.2" fill="none" stroke-dasharray="26.5 3 26.5 32.7" stroke-dashoffset="77.5"/>
<path d="M380.0,1164.0V1142.0M634.6,1164.0V1142.0M889.2,1164.0V1142.0M1143.8,1164.0V1142.0M1398.4,1164.0V1142.0M1653.0,1164.0V1142.0M507.3,1164.0V1153.0M761.9,1164.0V1153.0M1016.5,1164.0V1153.0M1271.1,1164.0V1153.0M1525.7,1164.0V1153.0M1780.3,1164.0V1153.0M252.5,122.2H275.0M252.5,295.9H275.0M252.5,469.6H275.0M252.5,643.3H275.0M252.5,817.0H275.0M252.5,990.7H275.0M252.5,1164.4H275.0M252.5,209.1H263.5M252.5,382.8H263.5M252.5,556.5H263.5M252.5,730.2H263.5M252.5,903.9H263.5M252.5,1077.5H263.5" stroke="#000" stroke-width="4" fill="none"/>
<rect x="252.5" y="35" width="1400.5" height="1129" fill="none" stroke="#000" stroke-width="4.2"/>
<g class="num" text-anchor="end"><text x="230.6" y="148.4">0</text><text x="230.6" y="322.1" textLength="99.9" lengthAdjust="spacing">−10</text><text x="230.6" y="495.8" textLength="99.9" lengthAdjust="spacing">−20</text><text x="230.6" y="669.5" textLength="99.9" lengthAdjust="spacing">−30</text><text x="230.6" y="843.2" textLength="99.9" lengthAdjust="spacing">−40</text><text x="230.6" y="1016.9" textLength="99.9" lengthAdjust="spacing">−50</text><text x="230.6" y="1190.6" textLength="99.9" lengthAdjust="spacing">−60</text></g>
<g class="num" text-anchor="middle"><text x="380.8" y="1244.3">2</text><text x="635.4" y="1244.3">3</text><text x="890.0" y="1244.3">4</text><text x="1144.6" y="1244.3">5</text><text x="1399.2" y="1244.3">6</text><text x="1653.8" y="1244.3">7</text></g>
<rect x="1207.1" y="53.3" width="437.7" height="136.2" fill="#fff" stroke="#8a8a8a" stroke-width="2.6"/>
<path d="M1210.6,93.4H1309" stroke="#474747" stroke-width="6.8"/>
<path d="M1210.6,158.6H1309" stroke="#ff3535" stroke-width="6.8"/>
<text class="mono" x="1336.3" y="109.9" font-size="50.5" textLength="301.5" lengthAdjust="spacingAndGlyphs">simulation</text>
<text class="mono" x="1338.1" y="174.6" font-size="50.5" textLength="240.4" lengthAdjust="spacingAndGlyphs">measured</text>
<text class="mono" x="724.2" y="1330.8" font-size="57.2" textLength="452" lengthAdjust="spacingAndGlyphs">Frequency(GHz)</text>
<text class="mono" transform="translate(70.2,691.9) rotate(-90)" x="0" y="0" font-size="58" textLength="224.1" lengthAdjust="spacingAndGlyphs">S11(dB)</text>
</svg>
</body></html>
